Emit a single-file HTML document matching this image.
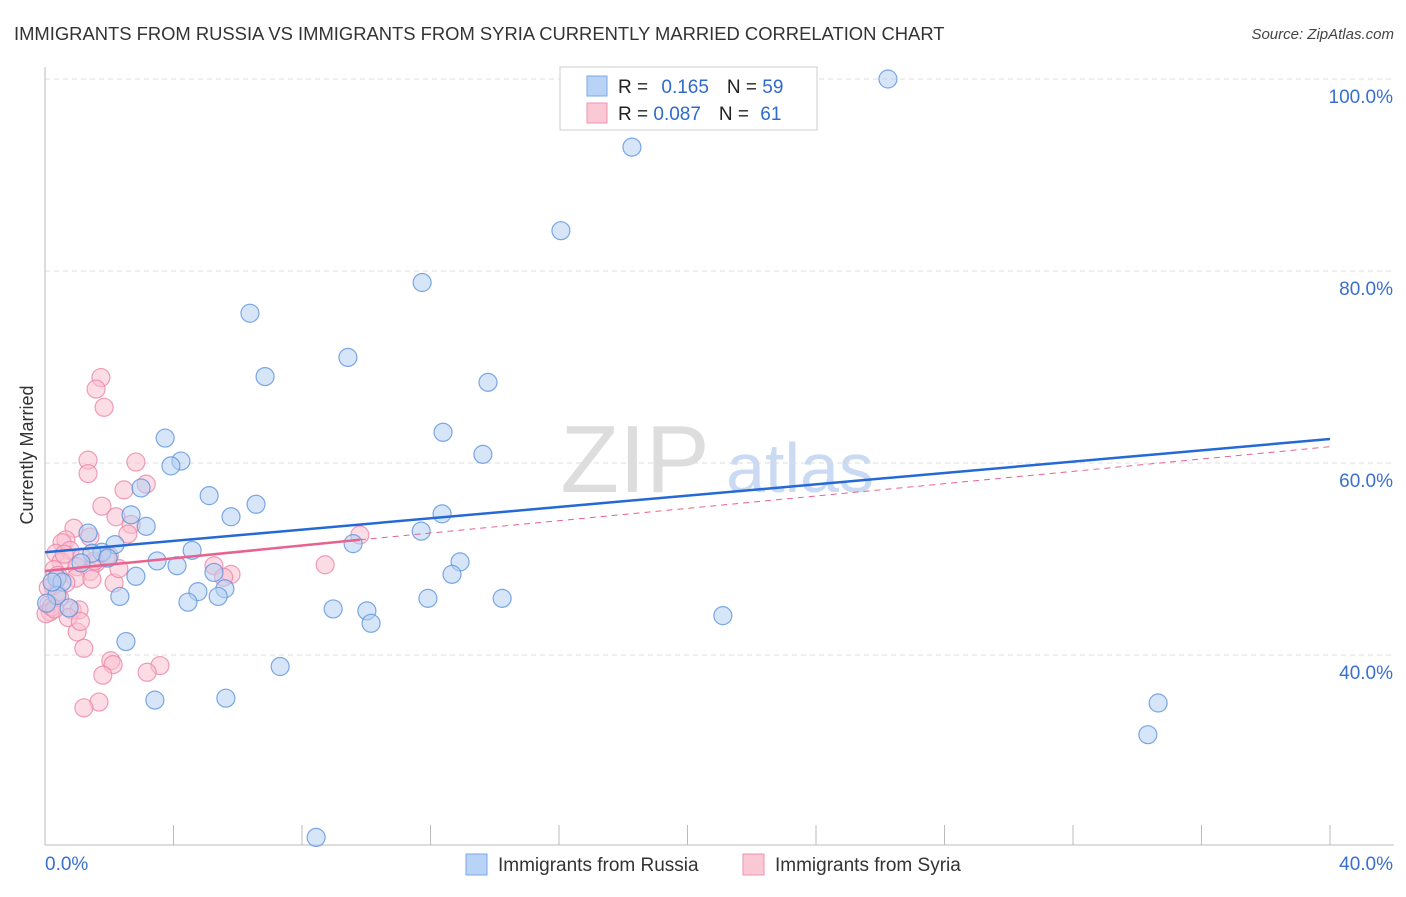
<!DOCTYPE html>
<html><head><meta charset="utf-8"><style>
body{margin:0;background:#fff;font-family:"Liberation Sans",sans-serif}
text{font-family:"Liberation Sans",sans-serif}
</style></head><body>
<svg id="chart" width="1406" height="892" xmlns="http://www.w3.org/2000/svg">
<text x="14" y="40" font-size="18.4" fill="#333">IMMIGRANTS FROM RUSSIA VS IMMIGRANTS FROM SYRIA CURRENTLY MARRIED CORRELATION CHART</text>
<text x="1394" y="39" font-size="15" fill="#444" font-style="italic" text-anchor="end">Source: ZipAtlas.com</text>
<g>
<text x="635" y="492" font-size="96" fill="#ddd" font-family="Liberation Serif" text-anchor="middle">ZIP</text>
<text x="800" y="492" font-size="70" fill="#c9daf2" text-anchor="middle">atlas</text>
</g>
<g id="grid"></g>
<g id="axes"></g>
<g id="points"></g>
<g id="lines"></g>
<text transform="translate(33,455) rotate(-90)" font-size="18" fill="#333" text-anchor="middle">Currently Married</text>
<g>
<rect x="560" y="67" width="257" height="63" fill="#fff" stroke="#ccc"/>
<rect x="587" y="76" width="20" height="20" fill="#b8d3f5" stroke="#7aa8e6"/>
<rect x="587" y="103" width="20" height="20" fill="#fbc8d6" stroke="#f090ac"/>
<text x="618" y="93" font-size="19" fill="#222">R = <tspan fill="#2f6ad0" dx="8">0.165</tspan><tspan dx="18" fill="#222">N = </tspan><tspan fill="#2f6ad0">59</tspan></text>
<text x="618" y="120" font-size="19" fill="#222">R = <tspan fill="#2f6ad0">0.087</tspan><tspan dx="18" fill="#222">N = </tspan><tspan fill="#2f6ad0" dx="6">61</tspan></text>
</g>
<g>
<rect x="466" y="854" width="21" height="21" fill="#b8d3f5" stroke="#7aa8e6"/>
<text x="498" y="871" font-size="19" fill="#333">Immigrants from Russia</text>
<rect x="743" y="854" width="21" height="21" fill="#fbc8d6" stroke="#f090ac"/>
<text x="775" y="871" font-size="19" fill="#333">Immigrants from Syria</text>
</g>
</svg>
<script>
const yTicks=[100,80,60,40];
const yTickLabels=["100.0%","80.0%","60.0%","40.0%"];
const xTickLabels=["0.0%","40.0%"];
const russiaX=[26.24,18.27,16.06,11.74,6.38,9.43,6.85,13.79,3.74,12.39,4.23,3.92,13.63,2.99,5.11,6.57,5.79,12.36,2.68,3.15,1.34,11.71,2.18,9.59,4.58,1.77,1.46,1.96,3.49,12.92,4.11,1.12,5.26,2.83,12.67,0.37,0.53,5.6,4.76,2.33,0.37,5.39,11.92,14.23,4.45,0.75,8.97,10.02,10.15,21.1,2.52,7.32,3.42,5.63,34.65,34.33,8.44,0.22,0.05];
const russiaY=[100,92.9,84.2,78.8,75.6,71.0,69.0,68.4,62.6,63.2,60.2,59.7,60.9,57.4,56.6,55.7,54.4,54.7,54.6,53.4,52.7,52.9,51.5,51.6,50.9,50.7,50.6,50.1,49.8,49.7,49.3,49.6,48.6,48.2,48.4,48.0,47.6,46.9,46.6,46.1,46.2,46.1,45.9,45.9,45.5,44.9,44.8,44.6,43.3,44.1,41.4,38.8,35.3,35.5,35.0,31.7,21.0,47.6,45.4];
const syriaX=[1.74,1.59,1.84,1.34,2.83,1.34,3.15,2.46,1.77,2.21,0.9,2.68,2.58,0.65,1.4,9.8,0.53,0.34,0.78,1.15,0.5,1.9,1.59,0.99,5.26,8.72,0.28,1.4,5.79,5.56,0.96,1.46,2.15,0.25,0.37,0.12,0.84,1.06,0.16,0.72,1.0,1.21,2.05,2.12,3.58,3.18,1.8,1.68,1.21,0.4,0.65,0.03,0.2,0.45,1.1,2.3,0.6,0.1,1.55,0.3,2.0];
const syriaY=[68.9,67.7,65.8,60.3,60.1,58.9,57.8,57.2,55.5,54.4,53.2,53.6,52.6,52.0,52.3,52.5,51.7,50.6,50.9,50.2,49.7,50.1,49.6,49.2,49.3,49.4,48.9,48.7,48.4,48.1,48.0,47.9,47.5,47.2,46.5,45.3,44.7,44.7,44.5,43.9,42.4,40.7,39.4,39.0,38.9,38.2,37.9,35.1,34.5,48.3,47.5,44.3,45.0,46.0,43.5,49.0,50.5,47.0,49.8,44.8,50.3];
const russiaTrend=[[0,50.7],[40,62.5]];
const syriaTrend=[[0,48.75],[9.8,52.0],[40,61.7]];
const NS="http://www.w3.org/2000/svg";
const X0=45,X1=1330,Y100=79,PX=9.6;
function sx(v){return X0+v*(X1-X0)/40;}
function sy(v){return Y100+(100-v)*PX;}
function mk(tag,attrs,parent){const e=document.createElementNS(NS,tag);for(const k in attrs)e.setAttribute(k,attrs[k]);parent.appendChild(e);return e;}
const grid=document.getElementById('grid'),axes=document.getElementById('axes'),pts=document.getElementById('points'),lines=document.getElementById('lines');
yTicks.forEach((t,i)=>{
 const l=mk('line',{x1:X0,x2:1394,y1:sy(t),y2:sy(t),stroke:'#ddd','stroke-dasharray':'5,4'},grid);
 
 
 const tx=mk('text',{x:1393,y:sy(t)+24,'font-size':19,fill:'#3a6fd0','text-anchor':'end'},axes);
 tx.textContent=yTickLabels[i];
 
 
});
let a=mk('line',{x1:X0,x2:X0,y1:67,y2:845,stroke:'#bbb'},axes);


a=mk('line',{x1:X0,x2:1394,y1:845,y2:845,stroke:'#bbb'},axes);


for(let i=0;i<=10;i++){const t=mk('line',{x1:sx(i*4),x2:sx(i*4),y1:825,y2:845,stroke:'#bbb'},axes);
 
 }
[[0,'start',45],[1,'end',1393]].forEach(([i,an,x])=>{const t=mk('text',{x:x,y:870,'font-size':19,fill:'#3a6fd0','text-anchor':an},axes);t.textContent=xTickLabels[i];
 
 });
function dots(X,Y,fill,stroke,name){X.forEach((x,i)=>{const c=mk('circle',{cx:sx(x),cy:sy(Y[i]),r:9,fill:fill,'fill-opacity':0.55,stroke:stroke,'stroke-opacity':0.8,'stroke-width':1.2},pts);
 
 });}
dots(syriaX,syriaY,'#f9c0d0','#ec86a6','syria-point');
dots(russiaX,russiaY,'#b5d0f3','#5d93de','russia-point');
let ln=mk('line',{x1:sx(russiaTrend[0][0]),y1:sy(russiaTrend[0][1]),x2:sx(russiaTrend[1][0]),y2:sy(russiaTrend[1][1]),stroke:'#2469d6','stroke-width':2.5},lines);


ln=mk('line',{x1:sx(syriaTrend[0][0]),y1:sy(syriaTrend[0][1]),x2:sx(syriaTrend[1][0]),y2:sy(syriaTrend[1][1]),stroke:'#e8628d','stroke-width':2.5},lines);


ln=mk('line',{x1:sx(syriaTrend[1][0]),y1:sy(syriaTrend[1][1]),x2:sx(syriaTrend[2][0]),y2:sy(syriaTrend[2][1]),stroke:'#e8628d','stroke-width':1,'stroke-dasharray':'6,5'},lines);


</script>
</body></html>
